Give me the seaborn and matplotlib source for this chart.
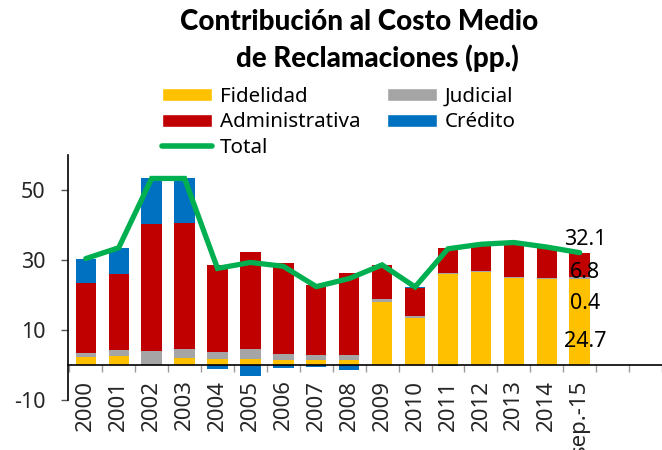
import numpy as np
import pandas as pd
import matplotlib
matplotlib.use("Agg")
import matplotlib.pyplot as plt
from matplotlib.patches import Patch
from matplotlib.lines import Line2D
import seaborn as sns

# Contribution to the average cost of claims, in percentage points
categories = ["2000", "2001", "2002", "2003", "2004", "2005", "2006", "2007",
              "2008", "2009", "2010", "2011", "2012", "2013", "2014", "sep.-15"]
fidelidad = [2.3, 2.5, 0.0, 1.9, 1.6, 1.8, 1.3, 1.4, 1.5, 18.1, 13.3, 26.0, 26.6, 24.8, 24.6, 24.7]
judicial = [1.1, 1.7, 4.0, 2.6, 2.1, 2.7, 1.8, 1.4, 1.5, 0.7, 0.6, 0.3, 0.4, 0.4, 0.4, 0.4]
administrativa = [20.1, 21.9, 36.3, 36.2, 24.9, 27.8, 26.0, 20.1, 23.2, 9.7, 8.1, 7.1, 7.5, 9.8, 8.7, 6.8]
credito = [6.9, 7.4, 13.0, 12.6, -1.0, -3.0, -0.9, -0.5, -1.5, 0.1, 0.3, -0.2, 0.0, 0.0, 0.0, 0.2]
total = [30.4, 33.5, 53.3, 53.3, 27.6, 29.3, 28.2, 22.4, 24.7, 28.6, 22.3, 33.2, 34.5, 35.0, 33.7, 32.1]
y_ticks = [-10, 10, 30, 50]

C_FID = "#FFC000"
C_JUD = "#A5A5A5"
C_ADM = "#C00000"
C_CRE = "#0070C0"
C_TOT = "#00B050"

sns.set_theme(style="white")
plt.rcParams["font.family"] = ["Noto Sans", "DejaVu Sans"]
plt.rcParams["text.color"] = "black"

fid = np.array(fidelidad)
jud = np.array(judicial)
adm = np.array(administrativa)
cre = np.array(credito)

# cumulative heights for overlaid stacking (positive parts stack upward,
# negative credit goes below zero)
lvl1 = fid
lvl2 = fid + jud
lvl3 = fid + jud + adm
lvl4 = np.where(cre > 0, lvl3 + cre, cre)

df = pd.DataFrame({"cat": categories, "l1": lvl1, "l2": lvl2, "l3": lvl3, "l4": lvl4})

fig = plt.figure(figsize=(6.62, 4.5), dpi=100)
ax = fig.add_axes([68 / 662, 50 / 450, 1 - 68 / 662, 245 / 450])

bar_kw = dict(order=categories, width=0.62, linewidth=0, saturation=1, ax=ax)
sns.barplot(data=df, x="cat", y="l4", color=C_CRE, **bar_kw)
sns.barplot(data=df, x="cat", y="l3", color=C_ADM, **bar_kw)
sns.barplot(data=df, x="cat", y="l2", color=C_JUD, **bar_kw)
sns.barplot(data=df, x="cat", y="l1", color=C_FID, **bar_kw)

sns.lineplot(x=np.arange(len(categories)), y=total, color=C_TOT, linewidth=3.8,
             solid_capstyle="round", solid_joinstyle="miter", ax=ax, legend=False)

ax.set_xlim(-0.54, 17.3)
ax.set_ylim(-10, 60)
ax.set_xlabel("")
ax.set_ylabel("")

ax.set_yticks(y_ticks)
ax.set_yticklabels([str(v) for v in y_ticks])
ax.tick_params(axis="y", which="major", direction="out", length=5, width=1,
               color="#555555", pad=11, labelsize=15.5, left=True)

ax.set_xticks(np.arange(len(categories)))
ax.set_xticklabels(categories)
ax.set_xticks(np.arange(-0.5, 18, 1.0), minor=True)
ax.tick_params(axis="x", which="major", length=0, pad=10.5, labelsize=16,
               labelrotation=90, bottom=True)
ax.tick_params(axis="x", which="minor", direction="out", length=5, width=1,
               color="#999999", bottom=True)
for lab in ax.get_xticklabels():
    lab.set_verticalalignment("top")
    lab.set_horizontalalignment("center")

for s in ["top", "right"]:
    ax.spines[s].set_visible(False)
ax.spines["bottom"].set_position(("data", 0))
ax.spines["bottom"].set_color("black")
ax.spines["bottom"].set_linewidth(1.2)
ax.spines["left"].set_color("black")
ax.spines["left"].set_linewidth(1.2)

# value labels for the last period
last = len(categories) - 1
labels = [(total[last], 35.9), (administrativa[last], 26.4),
          (judicial[last], 17.6), (fidelidad[last], 6.6)]
for val, ypos in labels:
    ax.text(last + 0.17, ypos, f"{val:.1f}", ha="center", va="center", fontsize=15.5)

handles = [
    Patch(facecolor=C_FID, label="Fidelidad"),
    Patch(facecolor=C_ADM, label="Administrativa"),
    Line2D([0], [0], color=C_TOT, linewidth=4, solid_capstyle="round", label="Total"),
    Patch(facecolor=C_JUD, label="Judicial"),
    Patch(facecolor=C_CRE, label="Crédito"),
]
fig.legend(handles=handles, ncol=2, loc="upper left",
           bbox_to_anchor=(162 / 662, 1 - 87 / 450), frameon=False,
           fontsize=14.8, handlelength=2.45, handleheight=0.6, handletextpad=0.35,
           columnspacing=1.3, labelspacing=0.26, borderpad=0, borderaxespad=0)

fig.text(359 / 662, 1 - 22 / 450, "Contribución al Costo Medio", ha="center", va="center",
         fontsize=20, fontweight="black", family=["Lato", "DejaVu Sans"])
fig.text(377 / 662, 1 - 58 / 450, "de Reclamaciones (pp.)", ha="center", va="center",
         fontsize=20, fontweight="black", family=["Lato", "DejaVu Sans"])

fig.savefig("out.png", dpi=100)
